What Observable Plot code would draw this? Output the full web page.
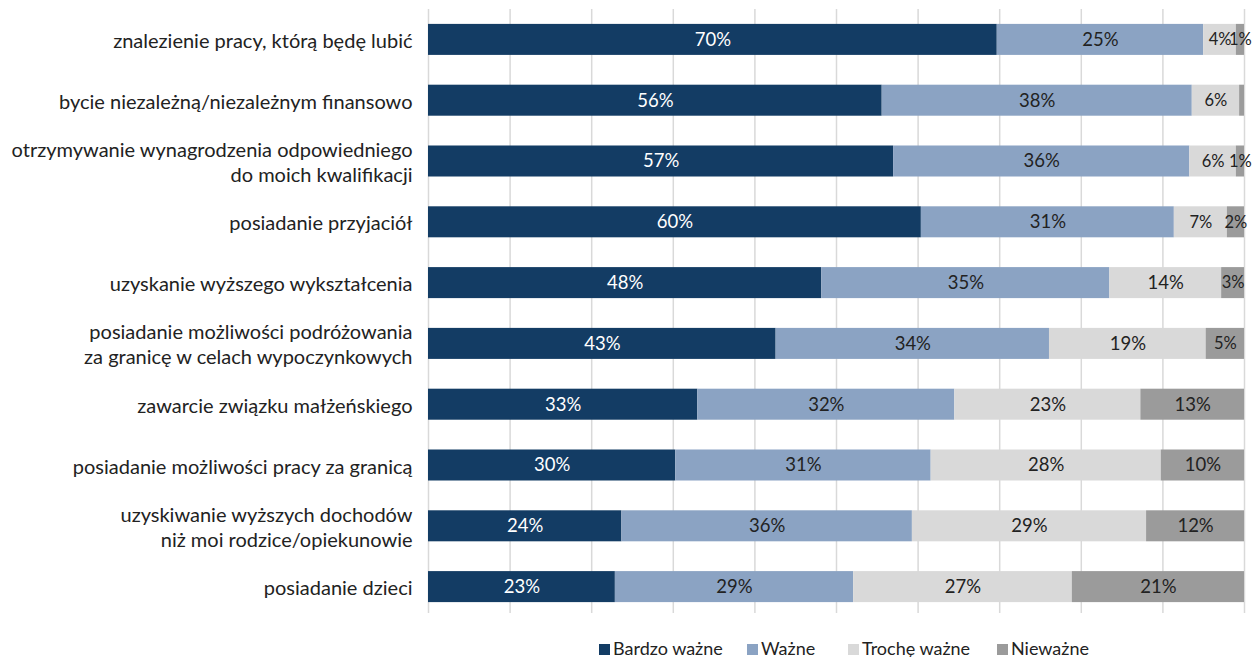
<!DOCTYPE html>
<html>
<head>
<meta charset="utf-8">
<script src="https://cdn.jsdelivr.net/npm/d3@7"></script>
<script src="https://cdn.jsdelivr.net/npm/@observablehq/plot@0.6"></script>
<style>
  html, body { margin: 0; padding: 0; background: #fff; }
  body { position: relative; width: 1254px; height: 657px; overflow: hidden; }
  #chart { width: 1254px; }
  .legend { position: absolute; left: 0; top: 637px; width: 1254px; height: 22px; font-family: Lato, "Open Sans", sans-serif; font-size: 18px; line-height: 22px; color: #222; white-space: nowrap; }
  .legend span.item { position: absolute; top: 0; display: inline-flex; align-items: center; gap: 3px; }
  .legend i { display: inline-block; width: 11px; height: 11px; position: relative; top: 1px; }
</style>
</head>
<body>
<div id="chart"></div>
<script>
const categories = [
  "znalezienie pracy, którą będę lubić",
  "bycie niezależną/niezależnym finansowo",
  "otrzymywanie wynagrodzenia odpowiedniego\ndo moich kwalifikacji",
  "posiadanie przyjaciół",
  "uzyskanie wyższego wykształcenia",
  "posiadanie możliwości podróżowania\nza granicę w celach wypoczynkowych",
  "zawarcie związku małżeńskiego",
  "posiadanie możliwości pracy za granicą",
  "uzyskiwanie wyższych dochodów\nniż moi rodzice/opiekunowie",
  "posiadanie dzieci"
];
const series = ["Bardzo ważne", "Ważne", "Trochę ważne", "Nieważne"];
const bardzoWazne = [69.7, 55.6, 57.0, 60.4, 48.2, 42.6, 33.0, 30.3, 23.7, 22.9];
const wazne       = [25.3, 38.0, 36.3, 31.0, 35.3, 33.5, 31.5, 31.3, 35.6, 29.2];
const trocheWazne = [ 4.0,  5.8,  5.7,  6.5, 13.7, 19.2, 22.8, 28.2, 28.7, 26.8];
const niewazne    = [ 1.0,  0.6,  1.0,  2.1,  2.8,  4.7, 12.7, 10.2, 12.0, 21.1];
const colors = ["#133c64", "#8ba3c3", "#d9d9d9", "#9b9b9b"];
const labelColors = ["#ffffff", "#222222", "#222222", "#222222"];
const gridTicks = d3.range(0, 101, 10);

const cols = [bardzoWazne, wazne, trocheWazne, niewazne];
const data = [];
categories.forEach((c, i) => {
  let x0 = 0;
  cols.forEach((arr, s) => {
    const v = arr[i];
    data.push({cat: c, series: series[s], value: v, x1: x0, x2: x0 + v, si: s});
    x0 += v;
  });
});
const labels = data.filter(d => d.value >= 0.95);
const bigLabels = labels.filter(d => d.value >= 7.5);
const smallLabels = labels.filter(d => d.value < 7.5);

const font = "Lato, 'Open Sans', sans-serif";
const labelOpts = (size) => ({
  y: "cat",
  x: d => (d.x1 + d.x2) / 2,
  text: d => Math.round(d.value) + "%",
  fill: d => labelColors[d.si],
  fontSize: size
});
const chart = Plot.plot({
  width: 1254,
  height: 626,
  marginLeft: 428,
  marginRight: 10,
  marginTop: 9,
  marginBottom: 9,
  style: {fontFamily: font, fontSize: "20px", color: "#222", background: "#fff"},
  x: {domain: [0, 100], axis: null},
  y: {domain: categories, paddingInner: 0.49, paddingOuter: 0.245, round: false, label: null},
  color: {domain: series, range: colors},
  marks: [
    Plot.ruleX(gridTicks, {stroke: "#d9d9d9", strokeWidth: 1.5, insetBottom: 4}),
    Plot.barX(data, {y: "cat", x1: "x1", x2: "x2", fill: "series"}),
    Plot.text(bigLabels, labelOpts(18.5)),
    Plot.text(smallLabels, labelOpts(16.5)),
    Plot.axisY({tickSize: 0, tickPadding: 16, fontSize: 20, lineHeight: 1.25, label: null})
  ]
});
document.getElementById("chart").appendChild(chart);

const legendLeft = [599, 747, 848, 997];
const legend = document.createElement("div");
legend.className = "legend";
series.forEach((s, i) => {
  const item = document.createElement("span");
  item.className = "item";
  item.style.left = legendLeft[i] + "px";
  const sw = document.createElement("i");
  sw.style.background = colors[i];
  item.appendChild(sw);
  item.appendChild(document.createTextNode(s));
  legend.appendChild(item);
});
document.body.appendChild(legend);
</script>
</body>
</html>
